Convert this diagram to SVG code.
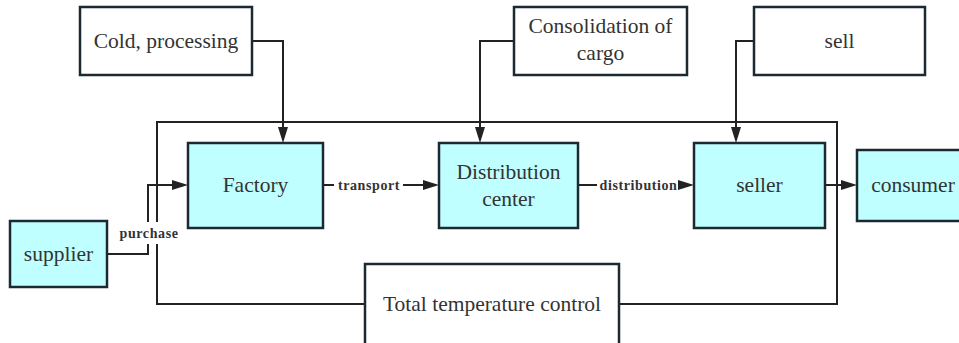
<svg xmlns="http://www.w3.org/2000/svg" width="959" height="343" viewBox="0 0 959 343">
<style>
.box{fill:#ffffff;stroke:#1d2930;stroke-width:2.5}
.cyan{fill:#bfffff;stroke:#1d2930;stroke-width:2.5}
.t{font-family:"Liberation Serif","Times New Roman",serif;font-size:21.5px;fill:#333;text-anchor:middle}
.lbl{font-family:"Liberation Serif","Times New Roman",serif;font-size:14px;font-weight:bold;fill:#333;text-anchor:middle;letter-spacing:0.6px}
.ln{fill:none;stroke:#222;stroke-width:2}
.bg{fill:#ffffff}
</style>
<defs>
<marker id="arr" viewBox="0 0 16 10" refX="0" refY="5" markerWidth="16" markerHeight="10" orient="auto" markerUnits="userSpaceOnUse">
<path d="M0,0 L16,5 L0,10 z" fill="#222"/>
</marker>
</defs>
<rect width="959" height="343" fill="#ffffff"/>
<g id="connectors">
<path class="ln" d="M365,304 H157 V122 H837 V304 H619"/>
<path class="ln" d="M252,41 H283 V127" marker-end="url(#arr)"/>
<path class="ln" d="M514,41 H480 V127" marker-end="url(#arr)"/>
<path class="ln" d="M754,41 H736 V127" marker-end="url(#arr)"/>
<path class="ln" d="M107,254 H148 V185 H172" marker-end="url(#arr)"/>
<path class="ln" d="M323,185 H423" marker-end="url(#arr)"/>
<path class="ln" d="M578,185 H678" marker-end="url(#arr)"/>
<path class="ln" d="M825,185 H841" marker-end="url(#arr)"/>
<rect class="bg" x="114" y="222" width="69" height="22"/>
<text class="lbl" x="149" y="238">purchase</text>
<rect class="bg" x="334" y="177" width="69" height="17"/>
<text class="lbl" x="369" y="190">transport</text>
<rect class="bg" x="597" y="177" width="81" height="17"/>
<text class="lbl" x="638.5" y="190">distribution</text>
</g>
<g id="cold-processing">
<rect class="box" x="80" y="7" width="172" height="68"/>
<text class="t" x="166" y="48">Cold, processing</text>
</g>
<g id="consolidation">
<rect class="box" x="514" y="7" width="173" height="68"/>
<text class="t" x="600.5" y="33">Consolidation of</text>
<text class="t" x="600.5" y="60">cargo</text>
</g>
<g id="sell">
<rect class="box" x="754" y="7" width="171" height="68"/>
<text class="t" x="839.5" y="48">sell</text>
</g>
<g id="factory">
<rect class="cyan" x="188" y="143" width="135" height="85"/>
<text class="t" x="255.5" y="192">Factory</text>
</g>
<g id="distribution-center">
<rect class="cyan" x="439" y="143" width="139" height="85"/>
<text class="t" x="508.5" y="179">Distribution</text>
<text class="t" x="508.5" y="206">center</text>
</g>
<g id="seller">
<rect class="cyan" x="694" y="143" width="131" height="85"/>
<text class="t" x="759.5" y="192">seller</text>
</g>
<g id="consumer">
<rect class="cyan" x="857" y="150" width="115" height="71"/>
<text class="t" x="913" y="192">consumer</text>
</g>
<g id="supplier">
<rect class="cyan" x="10" y="221" width="97" height="66"/>
<text class="t" x="58.5" y="261">supplier</text>
</g>
<g id="total-temperature-control">
<rect class="box" x="365" y="264" width="254" height="90"/>
<text class="t" x="492" y="311">Total temperature control</text>
</g>
</svg>
